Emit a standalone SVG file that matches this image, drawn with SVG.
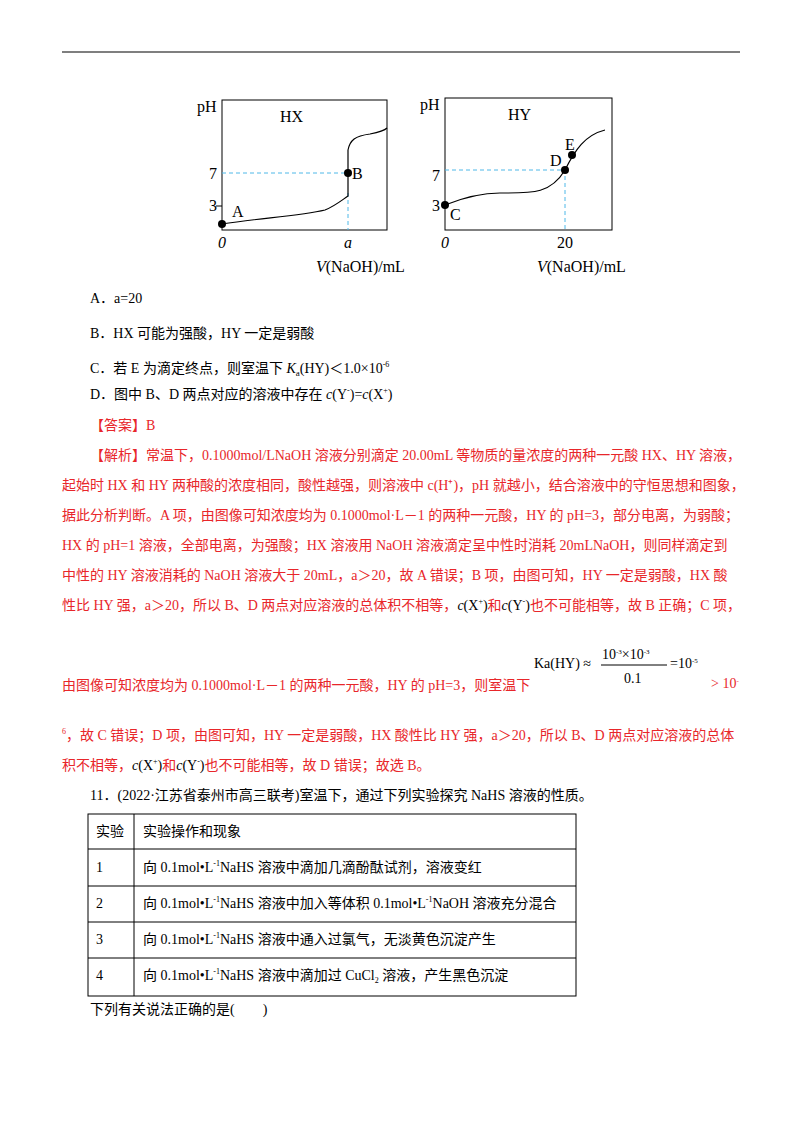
<svg xmlns="http://www.w3.org/2000/svg" width="800" height="1132" viewBox="0 0 800 1132">
<style>
text{font-family:"Liberation Serif","Noto Sans CJK SC",serif;font-size:14px;fill:#000}
.r{fill:#e8262a}
.g{font-size:16px}
.ax{fill:none;stroke:#000;stroke-width:1}
.d{stroke:#4fb8e8;stroke-width:1;stroke-dasharray:4,3;fill:none}
.c{fill:none;stroke:#000;stroke-width:1.2}
</style>
<rect width="800" height="1132" fill="#fff"/>
<line x1="62" y1="52" x2="740" y2="52" stroke="#000" stroke-width="1.2"/>
<g id="hx">
<rect class="ax" x="222" y="100" width="165" height="130"/>
<text class="g" x="197" y="112">pH</text>
<text class="g" x="280" y="122">HX</text>
<text class="g" x="209" y="179">7</text>
<text class="g" x="209" y="211">3</text>
<line x1="216" y1="206" x2="222" y2="206" stroke="#000"/>
<text class="g" x="218" y="248" font-style="italic">0</text>
<text class="g" x="344" y="248" font-style="italic">a</text>
<text class="g" x="316" y="272"><tspan font-style="italic">V</tspan>(NaOH)/mL</text>
<path class="d" d="M222 173H348M348 193V230"/>
<path class="c" d="M222 224C260 218 300 216 325 210C335 206 342 200 348 196V150C350 140 355 136 370 134C380 132 385 130 387 128"/>
<circle cx="222" cy="224" r="4"/><circle cx="348" cy="173" r="4"/>
<text class="g" x="232" y="217">A</text>
<text class="g" x="352" y="179">B</text>
</g>
<g id="hy">
<rect class="ax" x="445" y="98" width="167" height="132"/>
<text class="g" x="420" y="110">pH</text>
<text class="g" x="508" y="120">HY</text>
<text class="g" x="432" y="181">7</text>
<text class="g" x="432" y="211">3</text>
<text class="g" x="441" y="248" font-style="italic">0</text>
<text class="g" x="557" y="248">20</text>
<text class="g" x="537" y="272"><tspan font-style="italic">V</tspan>(NaOH)/mL</text>
<path class="d" d="M445 170H565V230"/>
<path class="c" d="M445 205C470 195 485 193 500 193C530 193 550 195 565 170C575 150 585 135 605 130"/>
<circle cx="445" cy="205" r="4"/><circle cx="565" cy="170" r="4"/><circle cx="572" cy="155" r="4"/>
<text class="g" x="450" y="220">C</text>
<text class="g" x="550" y="166">D</text>
<text class="g" x="565" y="150">E</text>
</g>
<text x="90" y="303">A．a=20</text>
<text x="90" y="338">B．HX 可能为强酸，HY 一定是弱酸</text>
<text x="90" y="373">C．若 E 为滴定终点，则室温下 <tspan font-style="italic">K</tspan><tspan font-size="9" dy="3">a</tspan><tspan dy="-3">(HY)＜1.0×10</tspan><tspan font-size="8" dy="-6">-6</tspan></text>
<text x="90" y="399">D．图中 B、D 两点对应的溶液中存在 <tspan font-style="italic">c</tspan>(Y<tspan font-size="8" dy="-6">-</tspan><tspan dy="6">)=</tspan><tspan font-style="italic">c</tspan>(X<tspan font-size="8" dy="-6">+</tspan><tspan dy="6">)</tspan></text>
<text class="r" x="90" y="430">【答案】B</text>
<text class="r" x="90" y="460">【解析】常温下，0.1000mol/LNaOH 溶液分别滴定 20.00mL 等物质的量浓度的两种一元酸 HX、HY 溶液，</text>
<text class="r" x="62" y="490">起始时 HX 和 HY 两种酸的浓度相同，酸性越强，则溶液中 c(H⁺)，pH 就越小，结合溶液中的守恒思想和图象，</text>
<text class="r" x="62" y="520">据此分析判断。A 项，由图像可知浓度均为 0.1000mol·L－1 的两种一元酸，HY 的 pH=3，部分电离，为弱酸；</text>
<text class="r" x="62" y="550">HX 的 pH=1 溶液，全部电离，为强酸；HX 溶液用 NaOH 溶液滴定呈中性时消耗 20mLNaOH，则同样滴定到</text>
<text class="r" x="62" y="580">中性的 HY 溶液消耗的 NaOH 溶液大于 20mL，a＞20，故 A 错误；B 项，由图可知，HY 一定是弱酸，HX 酸</text>
<text class="r" x="62" y="610">性比 HY 强，a＞20，所以 B、D 两点对应溶液的总体积不相等，<tspan fill="#000"><tspan font-style="italic">c</tspan>(X<tspan font-size="8" dy="-6">+</tspan><tspan dy="6">)</tspan></tspan>和<tspan fill="#000"><tspan font-style="italic">c</tspan>(Y<tspan font-size="8" dy="-6">-</tspan><tspan dy="6">)</tspan></tspan>也不可能相等，故 B 正确；C 项，</text>
<text class="r" x="62" y="690">由图像可知浓度均为 0.1000mol·L－1 的两种一元酸，HY 的 pH=3，则室温下</text>
<text x="534" y="668" font-size="15">Ka(HY) ≈</text>
<text x="602" y="659" font-size="12">10<tspan font-size="7" dy="-5">-3</tspan><tspan dy="5">×10</tspan><tspan font-size="7" dy="-5">-3</tspan></text>
<line x1="601" y1="665" x2="667" y2="665" stroke="#000"/>
<text x="624" y="683" font-size="12">0.1</text>
<text x="670" y="668" font-size="12">=10<tspan font-size="7" dy="-5">-5</tspan></text>
<text class="r" x="711" y="688" font-size="13">&gt; 10<tspan font-size="7" dy="-5">-</tspan></text>
<text class="r" x="62" y="740"><tspan font-size="8" dy="-6">6</tspan><tspan dy="6">，故 C 错误；D 项，由图可知，HY 一定是弱酸，HX 酸性比 HY 强，a＞20，所以 B、D 两点对应溶液的总体</tspan></text>
<text class="r" x="62" y="770">积不相等，<tspan fill="#000"><tspan font-style="italic">c</tspan>(X<tspan font-size="8" dy="-6">+</tspan><tspan dy="6">)</tspan></tspan>和<tspan fill="#000"><tspan font-style="italic">c</tspan>(Y<tspan font-size="8" dy="-6">-</tspan><tspan dy="6">)</tspan></tspan>也不可能相等，故 D 错误；故选 B。</text>
<text x="90" y="800">11．(2022·江苏省泰州市高三联考)室温下，通过下列实验探究 NaHS 溶液的性质。</text>
<g id="table" fill="none" stroke="#000" stroke-width="1">
<rect x="88" y="814" width="488" height="182"/>
<line x1="88" y1="849" x2="576" y2="849"/>
<line x1="88" y1="886" x2="576" y2="886"/>
<line x1="88" y1="922" x2="576" y2="922"/>
<line x1="88" y1="958" x2="576" y2="958"/>
<line x1="134" y1="814" x2="134" y2="996"/>
</g>
<text x="96" y="836">实验</text>
<text x="143" y="836">实验操作和现象</text>
<text x="96" y="872">1</text>
<text x="96" y="908">2</text>
<text x="96" y="944">3</text>
<text x="96" y="980">4</text>
<text x="143" y="872">向 0.1mol•L<tspan font-size="8" dy="-6">-1</tspan><tspan dy="6">NaHS 溶液中滴加几滴酚酞试剂，溶液变红</tspan></text>
<text x="143" y="908">向 0.1mol•L<tspan font-size="8" dy="-6">-1</tspan><tspan dy="6">NaHS 溶液中加入等体积 0.1mol•L</tspan><tspan font-size="8" dy="-6">-1</tspan><tspan dy="6">NaOH 溶液充分混合</tspan></text>
<text x="143" y="944">向 0.1mol•L<tspan font-size="8" dy="-6">-1</tspan><tspan dy="6">NaHS 溶液中通入过氯气，无淡黄色沉淀产生</tspan></text>
<text x="143" y="980">向 0.1mol•L<tspan font-size="8" dy="-6">-1</tspan><tspan dy="6">NaHS 溶液中滴加过 CuCl</tspan><tspan font-size="8" dy="3">2</tspan><tspan dy="-3"> 溶液，产生黑色沉淀</tspan></text>
<text x="90" y="1014">下列有关说法正确的是(　　)</text>
</svg>
